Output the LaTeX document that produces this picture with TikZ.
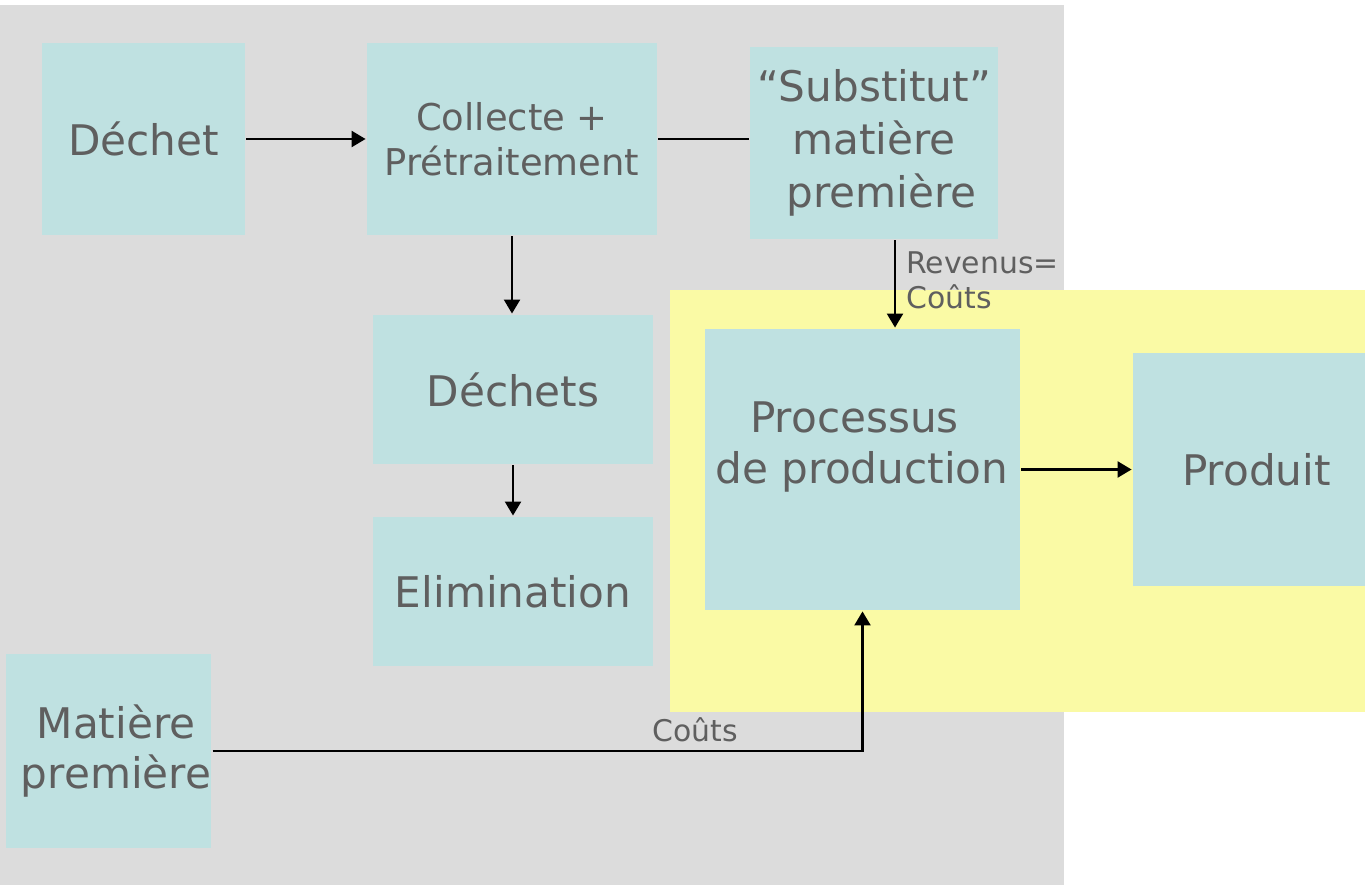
\documentclass[tikz,border=0pt]{standalone}
\usepackage{fontspec}
\setmainfont{DejaVu Sans}
\usetikzlibrary{arrows.meta}
\definecolor{boxcol}{RGB}{191,225,225}
\definecolor{backgray}{RGB}{220,220,220}
\definecolor{backyellow}{RGB}{250,250,165}
\definecolor{textgray}{RGB}{95,95,95}
\begin{document}
\begin{tikzpicture}[x=0.02cm,y=-0.02cm,>={Triangle[length=8pt,width=9pt]},line width=1.6pt]
        \tikzstyle{block}=[rectangle,fill=boxcol,inner sep=0pt,text=textgray,align=center,font=\fontsize{24}{29}\selectfont]
        \tikzstyle{note}=[inner sep=0pt,text=textgray,font=\fontsize{17}{20}\selectfont]
        \tikzstyle{flow}=[draw,->]
        \useasboundingbox (0,0) rectangle (1365,885);
        \fill[backgray] (0,5) rectangle (1064,885);
        \fill[backyellow] (670,290) rectangle (1365,712);
       \begin{scope}
         \node [block,minimum width=4.06cm,minimum height=3.84cm] (dechet) at (143.5,139) {Déchet};
         \node [block,minimum width=5.8cm,minimum height=3.84cm,font=\fontsize{21}{25.6}\selectfont] (collecte) at (512,139) {Collecte +\\Prétraitement};
         \node [block,minimum width=4.96cm,minimum height=3.84cm,font=\fontsize{24}{30}\selectfont] (substitut) at (874,143) {“Substitut”\\matière\\\hspace{0.3cm}première};
         \node [block,minimum width=5.6cm,minimum height=2.98cm] (dechets) at (513,389.5) {Déchets};
         \node [block,minimum width=5.6cm,minimum height=2.98cm] (elimination) at (513,591.5) {Elimination};
         \node [block,minimum width=6.3cm,minimum height=5.62cm] (processus) at (862.5,469.5) {};
         \node [block,fill=none] (processustext) at (862,447) {\hspace{-0.3cm}Processus\\de production};
         \node [block,minimum width=4.64cm,minimum height=4.66cm] (produit) at (1249,469.5) {\hspace{0.3cm}Produit};
         \node [block,minimum width=4.06cm,minimum height=3.88cm] (matiere) at (108.5,751) {\hspace{0.3cm}Matière\\\hspace{0.3cm}première};
         \node [note,anchor=north west,align=left] (revenus) at (905,250) {Revenus=\\Coûts};
         \node [note] (couts) at (695,730) {Coûts};
         \path[flow] (dechet) -- (collecte);
         \path[draw] (collecte.east) -- (collecte.east -| substitut.west);
         \path[flow] (collecte.south) -- (collecte.south |- dechets.north);
         \path[flow] (dechets) -- (elimination);
         \path[flow] ([xshift=0.42cm]substitut.south) -- ([xshift=0.42cm]substitut.south |- processus.north);
         \path[flow] (processus) -- (produit);
         \path[flow] (matiere.east) -| (processus.south);
        \end{scope}
      \end{tikzpicture}
\end{document}
